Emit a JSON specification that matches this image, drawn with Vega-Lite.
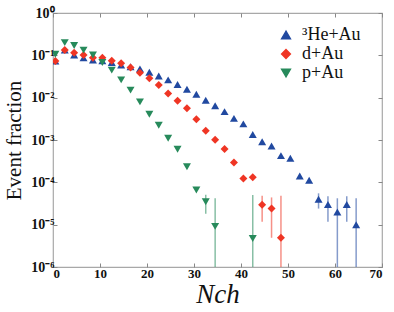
{
  "$schema": "https://vega.github.io/schema/vega-lite/v6.json",
  "width": 329,
  "height": 254,
  "autosize": {"type": "none"},
  "padding": {"left": 53, "top": 13, "right": 12, "bottom": 45},
  "background": "white",
  "config": {
    "view": {"stroke": "#a8a8a8", "strokeWidth": 1.2},
    "axis": {"grid": false, "domain": false, "tickColor": "#888888", "tickWidth": 1},
    "legend": {"orient": "none", "legendX": 224, "legendY": 13, "padding": 0, "rowPadding": 1, "title": null,
               "labelFont": "Liberation Serif", "labelFontSize": 18, "labelColor": "#111", "labelOffset": 7,
               "symbolSize": 75, "symbolOpacity": 1}
  },
  "data": {"values": [
    {"n": 0.5, "frac": 0.0733, "sys": "³He+Au"},
    {"n": 2.5, "frac": 0.133, "sys": "³He+Au"},
    {"n": 4.5, "frac": 0.102, "sys": "³He+Au"},
    {"n": 6.5, "frac": 0.0871, "sys": "³He+Au"},
    {"n": 8.5, "frac": 0.0776, "sys": "³He+Au"},
    {"n": 10.5, "frac": 0.0741, "sys": "³He+Au"},
    {"n": 12.5, "frac": 0.0676, "sys": "³He+Au"},
    {"n": 14.5, "frac": 0.0589, "sys": "³He+Au"},
    {"n": 16.5, "frac": 0.0537, "sys": "³He+Au"},
    {"n": 18.5, "frac": 0.0479, "sys": "³He+Au"},
    {"n": 20.5, "frac": 0.0398, "sys": "³He+Au"},
    {"n": 22.5, "frac": 0.0324, "sys": "³He+Au"},
    {"n": 24.5, "frac": 0.0263, "sys": "³He+Au"},
    {"n": 26.5, "frac": 0.0204, "sys": "³He+Au"},
    {"n": 28.5, "frac": 0.0158, "sys": "³He+Au"},
    {"n": 30.5, "frac": 0.012, "sys": "³He+Au"},
    {"n": 32.5, "frac": 0.00871, "sys": "³He+Au"},
    {"n": 34.5, "frac": 0.00646, "sys": "³He+Au"},
    {"n": 36.5, "frac": 0.00468, "sys": "³He+Au"},
    {"n": 38.5, "frac": 0.00324, "sys": "³He+Au"},
    {"n": 40.5, "frac": 0.0024, "sys": "³He+Au"},
    {"n": 42.5, "frac": 0.00135, "sys": "³He+Au"},
    {"n": 44.5, "frac": 0.000912, "sys": "³He+Au"},
    {"n": 46.5, "frac": 0.000724, "sys": "³He+Au"},
    {"n": 48.5, "frac": 0.000427, "sys": "³He+Au"},
    {"n": 50.5, "frac": 0.000372, "sys": "³He+Au"},
    {"n": 52.5, "frac": 0.000141, "sys": "³He+Au"},
    {"n": 54.5, "frac": 0.000112, "sys": "³He+Au"},
    {"n": 56.5, "frac": 0.0000398, "lo": 0.000024, "hi": 0.000055, "sys": "³He+Au"},
    {"n": 58.5, "frac": 0.00003, "lo": 0.0000117, "hi": 0.000047, "sys": "³He+Au"},
    {"n": 60.5, "frac": 0.00002, "lo": 0.000001, "hi": 0.000042, "sys": "³He+Au"},
    {"n": 62.5, "frac": 0.00003, "lo": 0.0000117, "hi": 0.000047, "sys": "³He+Au"},
    {"n": 64.5, "frac": 0.00001, "lo": 0.000001, "hi": 0.000042, "sys": "³He+Au"},
    {"n": 0.5, "frac": 0.0733, "sys": "d+Au"},
    {"n": 2.5, "frac": 0.133, "sys": "d+Au"},
    {"n": 4.5, "frac": 0.115, "sys": "d+Au"},
    {"n": 6.5, "frac": 0.102, "sys": "d+Au"},
    {"n": 8.5, "frac": 0.0871, "sys": "d+Au"},
    {"n": 10.5, "frac": 0.0871, "sys": "d+Au"},
    {"n": 12.5, "frac": 0.0741, "sys": "d+Au"},
    {"n": 14.5, "frac": 0.0646, "sys": "d+Au"},
    {"n": 16.5, "frac": 0.0513, "sys": "d+Au"},
    {"n": 18.5, "frac": 0.0389, "sys": "d+Au"},
    {"n": 20.5, "frac": 0.0288, "sys": "d+Au"},
    {"n": 22.5, "frac": 0.02, "sys": "d+Au"},
    {"n": 24.5, "frac": 0.0126, "sys": "d+Au"},
    {"n": 26.5, "frac": 0.00851, "sys": "d+Au"},
    {"n": 28.5, "frac": 0.00562, "sys": "d+Au"},
    {"n": 30.5, "frac": 0.00309, "sys": "d+Au"},
    {"n": 32.5, "frac": 0.00166, "sys": "d+Au"},
    {"n": 34.5, "frac": 0.00102, "sys": "d+Au"},
    {"n": 36.5, "frac": 0.000617, "sys": "d+Au"},
    {"n": 38.5, "frac": 0.000295, "sys": "d+Au"},
    {"n": 40.5, "frac": 0.000123, "sys": "d+Au"},
    {"n": 42.5, "frac": 0.000132, "sys": "d+Au"},
    {"n": 44.5, "frac": 0.0000295, "lo": 0.0000117, "hi": 0.000048, "sys": "d+Au"},
    {"n": 46.5, "frac": 0.000024, "lo": 0.0000049, "hi": 0.000044, "sys": "d+Au"},
    {"n": 48.5, "frac": 0.0000049, "lo": 0.000001, "hi": 0.000048, "sys": "d+Au"},
    {"n": 0.5, "frac": 0.106, "sys": "p+Au"},
    {"n": 2.5, "frac": 0.2, "sys": "p+Au"},
    {"n": 4.5, "frac": 0.17, "sys": "p+Au"},
    {"n": 6.5, "frac": 0.133, "sys": "p+Au"},
    {"n": 8.5, "frac": 0.102, "sys": "p+Au"},
    {"n": 10.5, "frac": 0.0676, "sys": "p+Au"},
    {"n": 12.5, "frac": 0.0447, "sys": "p+Au"},
    {"n": 14.5, "frac": 0.0263, "sys": "p+Au"},
    {"n": 16.5, "frac": 0.0151, "sys": "p+Au"},
    {"n": 18.5, "frac": 0.00794, "sys": "p+Au"},
    {"n": 20.5, "frac": 0.00407, "sys": "p+Au"},
    {"n": 22.5, "frac": 0.00224, "sys": "p+Au"},
    {"n": 24.5, "frac": 0.0011, "sys": "p+Au"},
    {"n": 26.5, "frac": 0.000603, "sys": "p+Au"},
    {"n": 28.5, "frac": 0.000234, "sys": "p+Au"},
    {"n": 30.5, "frac": 0.000066, "sys": "p+Au"},
    {"n": 32.5, "frac": 0.0000347, "lo": 0.000018, "hi": 0.000051, "sys": "p+Au"},
    {"n": 34.5, "frac": 0.0000091, "lo": 0.000001, "hi": 0.000042, "sys": "p+Au"},
    {"n": 42.5, "frac": 0.0000047, "lo": 0.000001, "hi": 0.00005, "sys": "p+Au"}
  ]},
  "resolve": {"axis": {"x": "independent", "y": "independent"}},
  "layer": [
    {
      "transform": [{"filter": "isValid(datum.lo)"}],
      "mark": {"type": "rule", "strokeWidth": 1.5, "opacity": 0.55, "clip": true},
      "encoding": {
        "x": {"field": "n", "type": "quantitative", "scale": {"domain": [0, 70], "nice": false},
              "axis": {"orient": "top", "labels": false, "title": null, "values": [0,10,20,30,40,50,60,70], "tickSize": -4}},
        "y": {"field": "lo", "type": "quantitative", "scale": {"type": "log", "domain": [0.000001, 1], "nice": false},
              "axis": {"orient": "right", "labels": false, "title": null, "values": [1,0.1,0.01,0.001,0.0001,0.00001,0.000001], "tickSize": -4}},
        "y2": {"field": "hi"},
        "color": {"field": "sys", "type": "nominal",
                  "scale": {"domain": ["³He+Au", "d+Au", "p+Au"], "range": ["#2149a0", "#ef3524", "#278a5b"]}}
      }
    },
    {
      "mark": {"type": "point", "filled": true, "opacity": 1, "size": 64, "clip": true},
      "encoding": {
        "x": {"field": "n", "type": "quantitative", "scale": {"domain": [0, 70], "nice": false},
              "axis": {"orient": "bottom", "title": "Nch", "values": [0,10,20,30,40,50,60,70], "tickSize": -4,
                       "labelFont": "Liberation Serif", "labelFontWeight": "bold", "labelFontSize": 13, "labelColor": "#111", "labelPadding": 4,
                       "titleFont": "Liberation Serif", "titleFontStyle": "italic", "titleFontWeight": "normal", "titleFontSize": 27, "titleColor": "#111", "titlePadding": 1}},
        "y": {"field": "frac", "type": "quantitative", "scale": {"type": "log", "domain": [0.000001, 1], "nice": false},
              "axis": {"orient": "left", "title": "Event fraction", "values": [1,0.1,0.01,0.001,0.0001,0.00001,0.000001], "tickSize": -4,
                       "labelExpr": "'10' + ['⁰','⁻¹','⁻²','⁻³','⁻⁴','⁻⁵','⁻⁶'][round(-log(datum.value)/LN10)]",
                       "labelFont": "Liberation Serif", "labelFontWeight": "bold", "labelFontSize": 14, "labelColor": "#111", "labelPadding": 3,
                       "titleFont": "Liberation Serif", "titleFontWeight": "normal", "titleFontSize": 21, "titleColor": "#111", "titlePadding": 6}},
        "color": {"field": "sys", "type": "nominal",
                  "scale": {"domain": ["³He+Au", "d+Au", "p+Au"], "range": ["#2149a0", "#ef3524", "#278a5b"]}},
        "shape": {"field": "sys", "type": "nominal",
                  "scale": {"domain": ["³He+Au", "d+Au", "p+Au"], "range": ["triangle-up", "diamond", "triangle-down"]}}
      }
    }
  ]
}
